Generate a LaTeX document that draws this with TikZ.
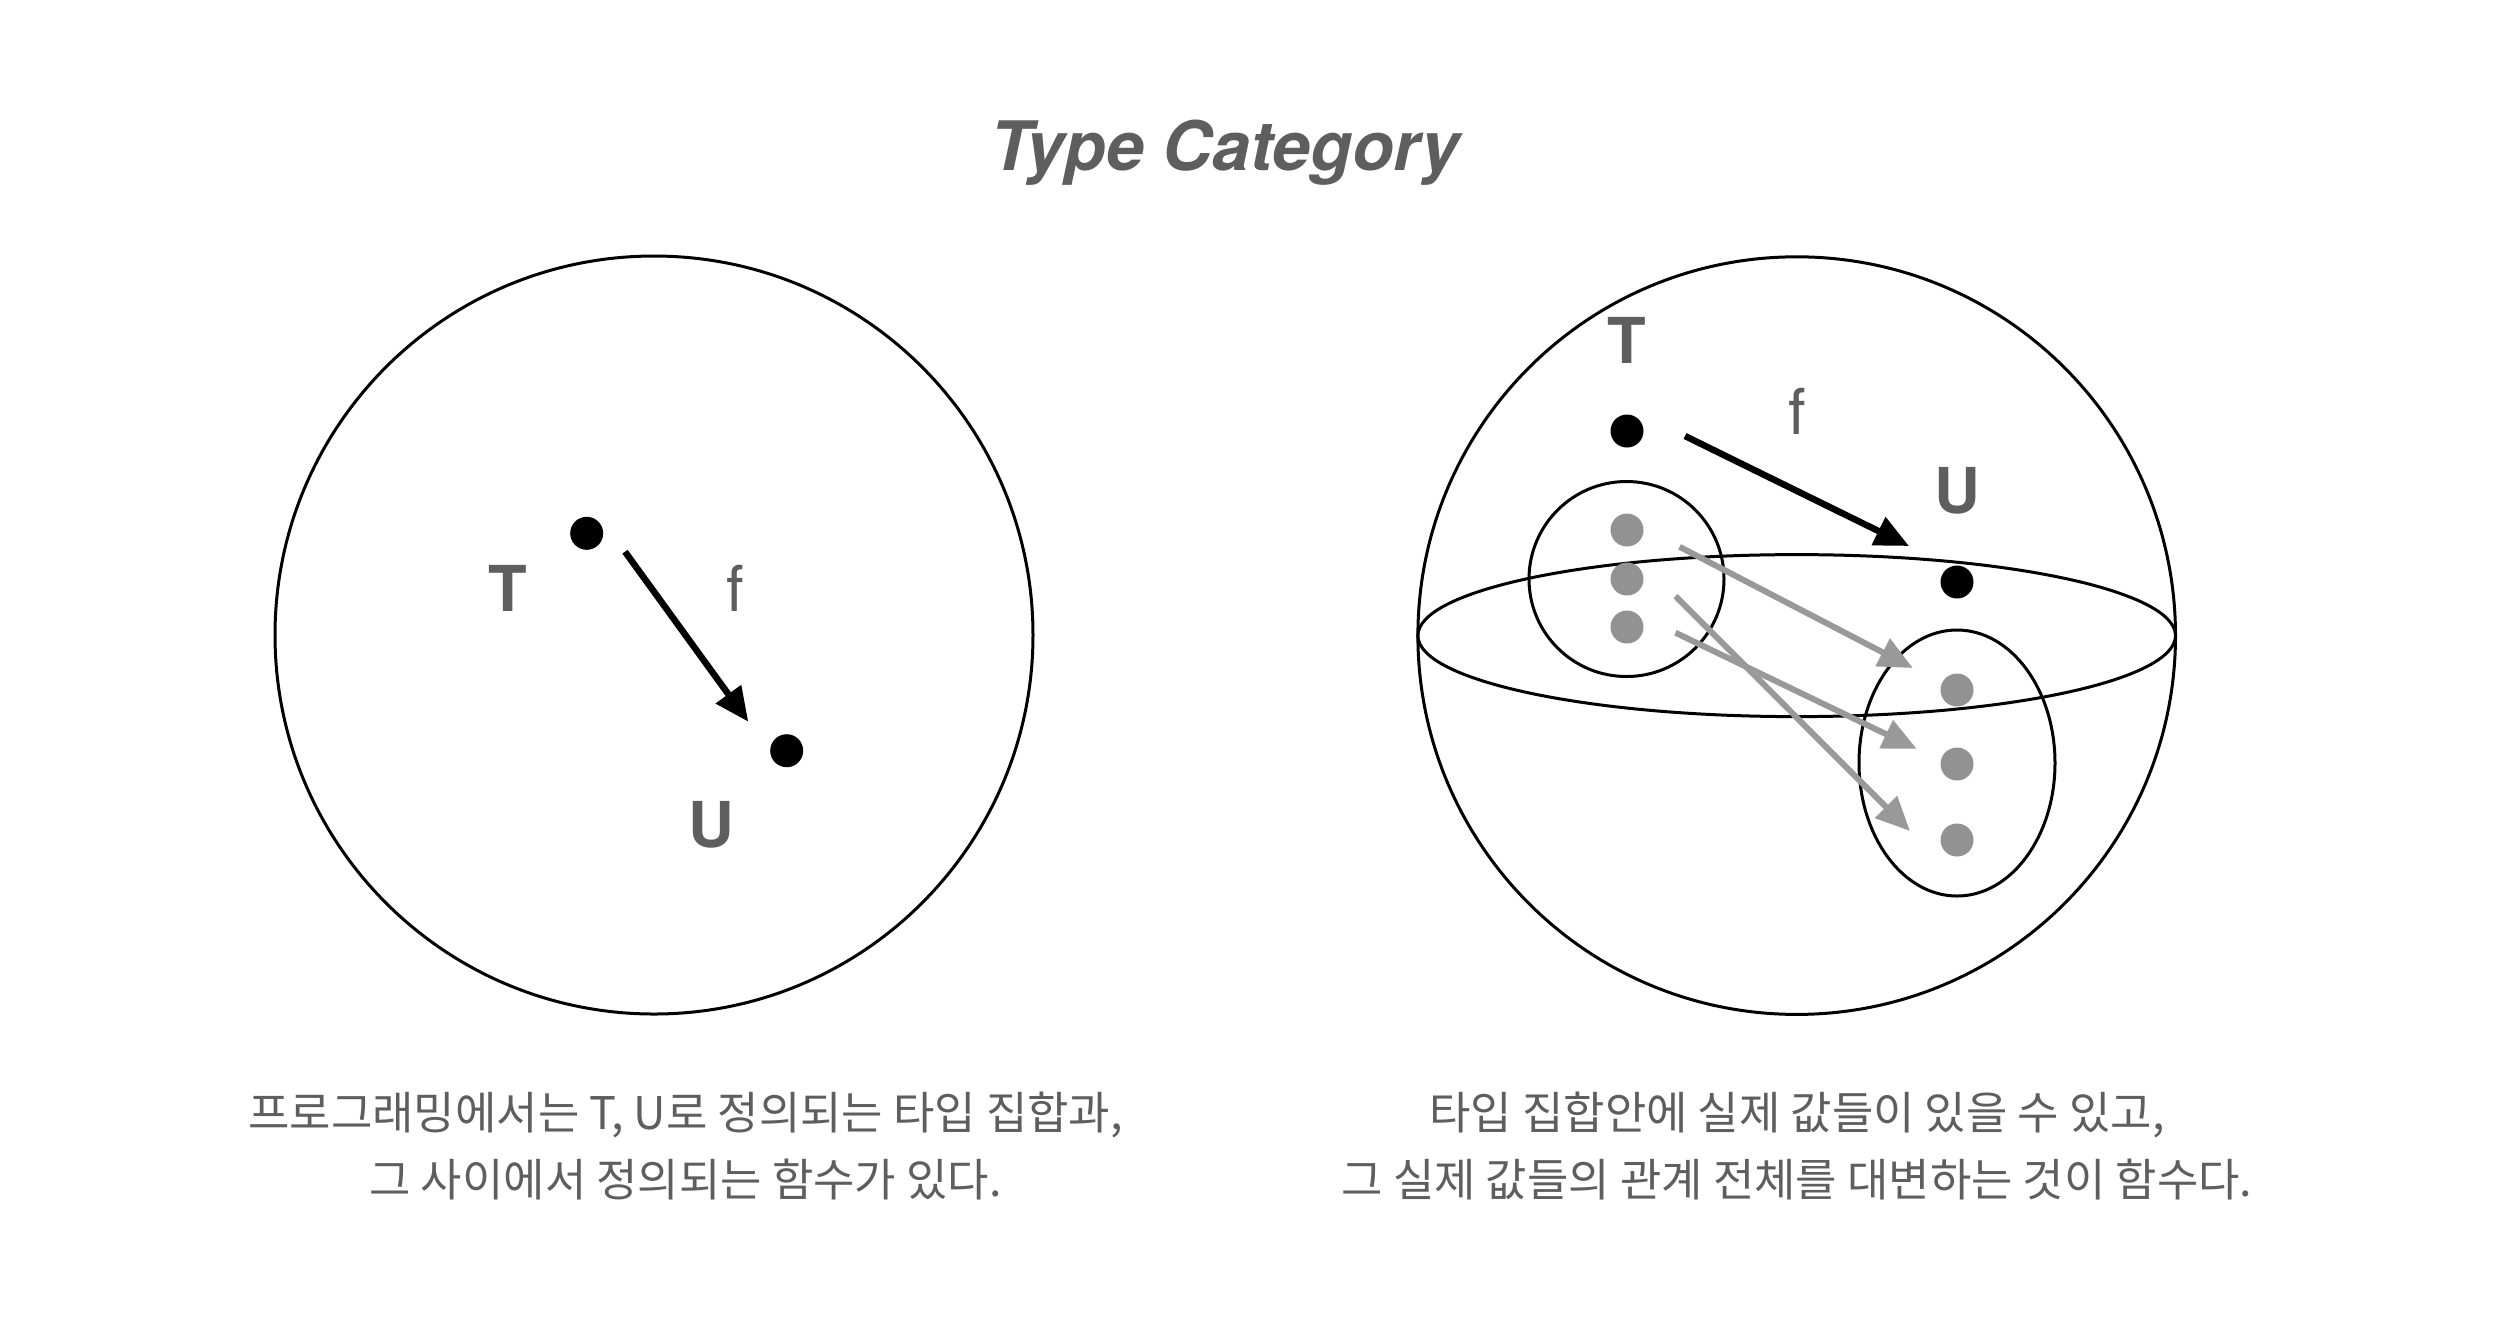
\documentclass[tikz,border=0pt]{standalone}
\usepackage{fontspec}
\setmainfont{TeX Gyre Heros}
\newfontfamily\kofont{Noto Sans CJK KR}
\usepackage{xcolor}
\definecolor{labelgray}{HTML}{5E5E5E}
\definecolor{valuegray}{HTML}{929292}
\definecolor{mapgray}{HTML}{999999}
\usetikzlibrary{arrows.meta,positioning}

\begin{document}
\begin{tikzpicture}[
      category/.style={draw, line width=0.03cm},
      obj/.style={circle, fill=black, inner sep=0pt, minimum size=0.33cm},
      val/.style={circle, fill=valuegray, inner sep=0pt, minimum size=0.33cm},
      typelabel/.style={text=labelgray, font=\fontsize{18}{20}\selectfont\bfseries},
      funclabel/.style={text=labelgray, font=\fontsize{18}{20}\selectfont},
      morph/.style={line width=0.065cm, -{Triangle[length=0.34cm,width=0.3cm]}},
      valmap/.style={draw=mapgray, line width=0.06cm, -{Triangle[length=0.34cm,width=0.3cm]}},
      caption/.style={text=labelgray, align=center, font=\kofont\fontsize{12.8}{19}\selectfont}
    ]
    \useasboundingbox (0,0) rectangle (24.96,-13.38);
    \node[text=labelgray, font=\fontsize{19.4}{24}\selectfont\bfseries\itshape, anchor=base] (title) at (12.25,-1.705) {Type Category};

    % left: types and a function
    \draw[category] (6.54,-6.35) circle (3.79);
    \node[obj] (lt) at (5.867,-5.333) {};
    \node[obj] (lu) at (7.867,-7.507) {};
    \node[typelabel] (ltl) at (5.083,-5.883) {T};
    \node[funclabel] (lfl) at (7.35,-5.883) {f};
    \node[typelabel] (lul) at (7.117,-8.25) {U};
    \coordinate (lfs) at (6.25,-5.517);
    \coordinate (lfe) at (7.483,-7.217);
    \draw[morph] (lfs) -- (lfe);

    % right: values inside the types
    \draw[category] (17.967,-6.356) circle (3.788);
    \draw[category] (17.967,-6.356) ellipse (3.788 and 0.81);
    \node[obj] (rt) at (16.27,-4.31) {};
    \node[obj] (ru) at (19.57,-5.82) {};
    \node[typelabel] (rtl) at (16.27,-3.40) {T};
    \node[funclabel] (rfl) at (17.97,-4.11) {f};
    \node[typelabel] (rul) at (19.57,-4.91) {U};
    \coordinate (rfs) at (16.85,-4.36);
    \coordinate (rfe) at (19.09,-5.46);
    \draw[morph] (rfs) -- (rfe);

    \draw[category] (16.265,-5.79) circle (0.975);
    \draw[category] (19.57,-7.63) ellipse (0.98 and 1.33);
    \node[val] (t1) at (16.27,-5.30) {};
    \node[val] (t2) at (16.27,-5.79) {};
    \node[val] (t3) at (16.27,-6.27) {};
    \node[val] (u1) at (19.57,-6.90) {};
    \node[val] (u2) at (19.57,-7.64) {};
    \node[val] (u3) at (19.57,-8.40) {};

    \coordinate (m1s) at (16.796,-5.468); \coordinate (m1e) at (19.128,-6.68);
    \coordinate (m2s) at (16.755,-6.327); \coordinate (m2e) at (19.168,-7.489);
    \coordinate (m3s) at (16.755,-5.96); \coordinate (m3e) at (19.10,-8.31);
    \draw[valmap] (m1s) -- (m1e);
    \draw[valmap] (m2s) -- (m2e);
    \draw[valmap] (m3s) -- (m3e);

    \node[caption] (lcap) at (6.856,-11.46) {프로그래밍에서는 T, U로 정의되는 타입 집합과,\\그 사이에서 정의되는 함수가 있다.};
    \node[caption] (rcap) at (17.97,-11.46) {타입 집합안에 실제 값들이 있을 수 있고,\\그 실제 값들의 관계 전체를 대변하는 것이 함수다.};
  \end{tikzpicture}
\end{document}
